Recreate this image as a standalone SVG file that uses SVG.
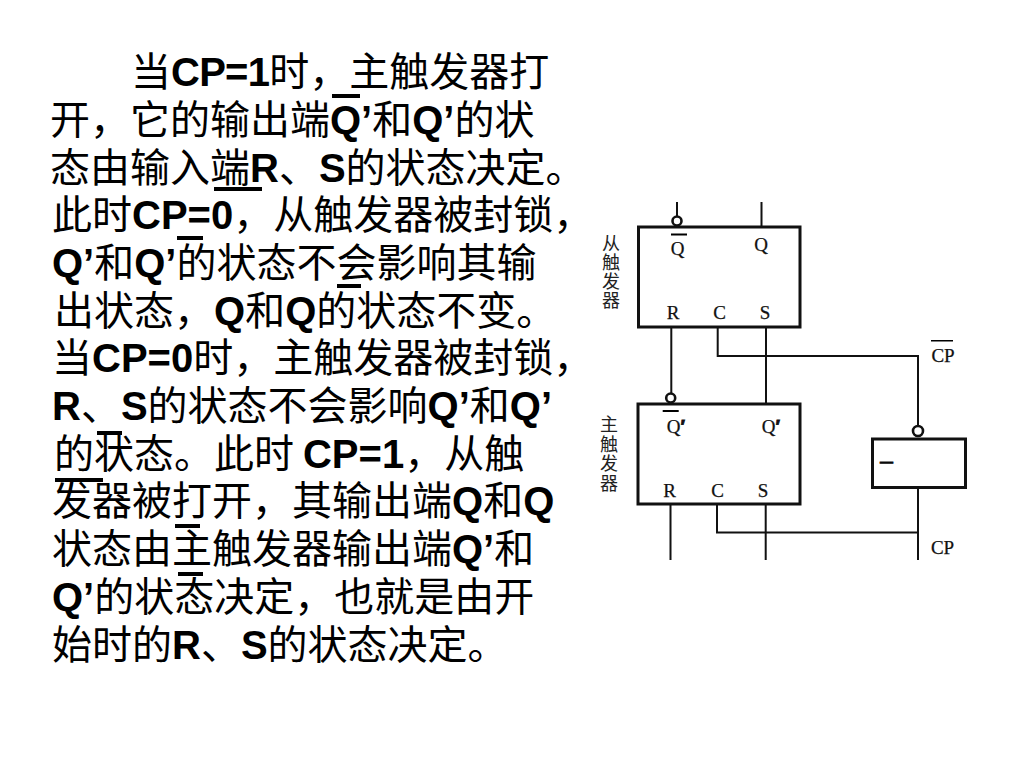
<svg xmlns="http://www.w3.org/2000/svg" width="1024" height="768" viewBox="0 0 1024 768">
<style>
.t{font-family:"Noto Sans CJK SC","Liberation Sans",sans-serif;font-size:40px;fill:#000}
.b{font-family:"Liberation Sans",Arial,sans-serif;font-weight:700}
.bar{fill:#000}
.box{fill:#fff;stroke:#111;stroke-width:3}
.w{fill:none;stroke:#111;stroke-width:2}
.c{fill:#fff;stroke:#111;stroke-width:2.6}
.l{font-family:"Liberation Serif",serif;font-size:19px;fill:#111;text-anchor:middle;stroke:#111;stroke-width:.25}
.p{font-family:"Liberation Sans",sans-serif;font-weight:700;stroke:#111;stroke-width:.8}
.z{font-family:"Noto Sans CJK SC",sans-serif;font-size:18px;fill:#222;text-anchor:middle}
</style>
<rect width="1024" height="768" fill="#fff"/>
<g id="text">
<text class="t" x="131" y="86">当<tspan class="b" letter-spacing="-0.75">CP=1</tspan>时，主触发器打</text>
<text class="t" x="50" y="134">开，它的输出端<tspan class="b">Q’</tspan>和<tspan class="b">Q’</tspan>的状</text>
<text class="t" x="50" y="182">态由输入端<tspan class="b">R</tspan>、<tspan class="b">S</tspan>的状态决定。</text>
<text class="t" x="52" y="229">此时<tspan class="b">CP=0</tspan>，从触发器被封锁，</text>
<text class="t" x="52" y="277"><tspan class="b">Q’</tspan>和<tspan class="b">Q’</tspan>的状态不会影响其输</text>
<text class="t" x="54" y="325">出状态，<tspan class="b">Q</tspan>和<tspan class="b">Q</tspan>的状态不变。</text>
<text class="t" x="52" y="372">当<tspan class="b">CP=0</tspan>时，主触发器被封锁，</text>
<text class="t" x="52" y="420"><tspan class="b">R</tspan>、<tspan class="b">S</tspan>的状态不会影响<tspan class="b">Q’</tspan>和<tspan class="b">Q’</tspan></text>
<text class="t" x="54" y="468">的状态。此时 <tspan class="b">CP=1</tspan>，从触</text>
<text class="t" x="52" y="515">发器被打开，其输出端<tspan class="b">Q</tspan>和<tspan class="b">Q</tspan></text>
<text class="t" x="52" y="563">状态由主触发器输出端<tspan class="b">Q’</tspan>和</text>
<text class="t" x="52" y="611"><tspan class="b">Q’</tspan>的状态决定，也就是由开</text>
<text class="t" x="52" y="659">始时的<tspan class="b">R</tspan>、<tspan class="b">S</tspan>的状态决定。</text>
<rect class="bar" x="332" y="94" width="28" height="4"/>
<rect class="bar" x="214" y="187" width="48" height="4"/>
<rect class="bar" x="177" y="236" width="26" height="4"/>
<rect class="bar" x="337" y="284" width="24" height="4"/>
<rect class="bar" x="97" y="431" width="25" height="4"/>
<rect class="bar" x="55" y="478" width="48" height="4"/>
<rect class="bar" x="175" y="524" width="25" height="4"/>
<rect class="bar" x="178" y="572" width="25" height="4"/>
</g>
<g id="connectors">
<path class="w" d="M677 202V216M761.500 202V227"/>
<path class="w" d="M671.300 327V393M766 327V404"/>
<path class="w" d="M717.700 327V356H918V426"/>
<path class="w" d="M670.500 504V560M765.700 504V560"/>
<path class="w" d="M717 504V532.500H918M918 487V560"/>
</g>
<g id="slave-flip-flop">
<rect class="box" x="638.500" y="227" width="161.500" height="100"/>
<circle class="c" cx="677" cy="221" r="4.500"/>
<rect class="bar" x="671" y="233.500" width="16" height="2"/>
<text class="l" x="677.500" y="255">Q</text>
<text class="l" x="761" y="251">Q</text>
<text class="l" x="673" y="319">R</text>
<text class="l" x="719.500" y="319">C</text>
<text class="l" x="765" y="319">S</text>
<text class="z" x="611" y="250">从</text>
<text class="z" x="611" y="269">触</text>
<text class="z" x="611" y="288">发</text>
<text class="z" x="611" y="307">器</text>
</g>
<g id="master-flip-flop">
<rect class="box" x="638" y="404" width="162" height="100"/>
<circle class="c" cx="670.700" cy="398" r="4.500"/>
<rect class="bar" x="662.700" y="410" width="16" height="2"/>
<text class="l" x="676" y="433">Q<tspan class="p">′</tspan></text>
<text class="l" x="771" y="433">Q<tspan class="p">′</tspan></text>
<text class="l" x="669.500" y="497">R</text>
<text class="l" x="717.500" y="497">C</text>
<text class="l" x="763" y="497">S</text>
<text class="z" x="609" y="431">主</text>
<text class="z" x="609" y="451">触</text>
<text class="z" x="609" y="470">发</text>
<text class="z" x="609" y="490">器</text>
</g>
<g id="inverter">
<rect class="box" x="872.500" y="439" width="93" height="48.500"/>
<circle class="c" cx="918" cy="431" r="5"/>
<text x="880" y="466" font-family="Liberation Sans, sans-serif" font-weight="700" font-size="13" stroke="#111" stroke-width="0.8">—</text>
</g>
<g id="cp-labels">
<rect class="bar" x="931" y="340" width="22" height="1.500"/>
<text class="l" x="943" y="362">CP</text>
<text class="l" x="942.500" y="554">CP</text>
</g>
</svg>
